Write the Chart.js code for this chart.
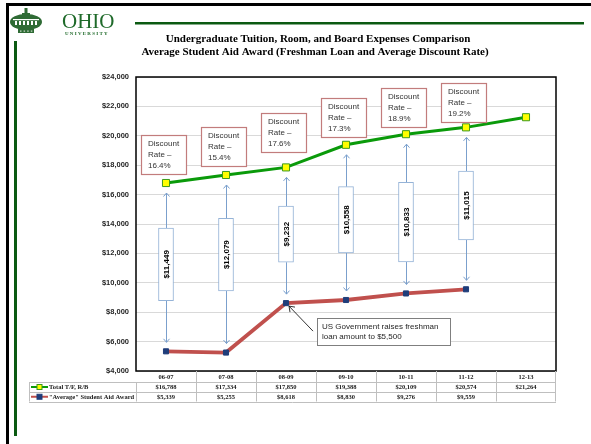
<!DOCTYPE html>
<html>
<head>
<meta charset="utf-8">
<script src="https://cdn.jsdelivr.net/npm/chart.js@4/dist/chart.umd.min.js"></script>
<style>
	html, body { margin: 0; padding: 0; background: #fff; }
	#wrap { width: 591px; height: 444px; position: relative; }
</style>
</head>
<body>
<div id="wrap"><canvas id="chart"></canvas></div>
<script>
const categories = ['06-07', '07-08', '08-09', '09-10', '10-11', '11-12', '12-13'];
const totalTFRB = [16788, 17334, 17850, 19388, 20109, 20574, 21264];
const avgAidAward = [5339, 5255, 8618, 8830, 9276, 9559, null];
const gapBoxLow = [8780, 9440, 11400, 12030, 11420, 12910];
const gapBoxHigh = [13730, 14390, 15220, 16540, 16840, 17600];
const gapLabels = ['$11,449', '$12,079', '$9,232', '$10,558', '$10,833', '$11,015'];
const discountRates = ['16.4%', '15.4%', '17.6%', '17.3%', '18.9%', '19.2%'];
const seriesNames = ['Total T/F, R/B', '"Average" Student Aid Award'];

const money = (v) => '$' + v.toLocaleString('en-US');

// gap (px) between each discount callout and its point
const calloutGap = [9, 9, 15, 8, 7, 5];

// ---------- page furniture: frame, logo, title ----------
function drawHeader(ctx) {
	ctx.save();
	// black frame
	ctx.fillStyle = '#000';
	ctx.fillRect(6, 3, 585, 3);
	ctx.fillRect(6, 3, 3, 441);
	// green rules
	ctx.fillStyle = '#0b5a12';
	ctx.fillRect(14, 41, 3, 395);
	ctx.fillRect(135, 22, 449, 2.5);

	// logo emblem (rough Cutler Hall)
	ctx.fillStyle = '#2f6b35';
	ctx.beginPath();
	ctx.ellipse(26, 22, 16, 8, 0, 0, Math.PI * 2);
	ctx.fill();
	ctx.fillRect(24.5, 8, 3, 8);
	ctx.fillRect(22, 13, 8, 4);
	ctx.fillStyle = '#fff';
	ctx.fillRect(13, 19, 26, 1.2);
	for (let i = 0; i < 6; i++) ctx.fillRect(15 + i * 4, 21, 2, 4);
	ctx.fillStyle = '#2f6b35';
	ctx.fillRect(18, 29, 16, 4);
	ctx.fillStyle = '#cfe0cf';
	for (let i = 0; i < 4; i++) ctx.fillRect(20 + i * 3.6, 30.5, 1.5, 1.2);

	ctx.fillStyle = '#1f6a2a';
	ctx.font = '21px "Liberation Serif"';
	ctx.textBaseline = 'alphabetic';
	ctx.fillText('OHIO', 62, 28);
	ctx.font = 'bold 5px "Liberation Serif"';
	ctx.fillText('U N I V E R S I T Y', 65, 34.5);

	// title
	ctx.fillStyle = '#000';
	ctx.textAlign = 'center';
	ctx.textBaseline = 'middle';
	ctx.font = 'bold 11px "Liberation Serif"';
	ctx.fillText('Undergraduate Tuition, Room, and Board Expenses Comparison', 318, 39);
	ctx.fillText('Average Student Aid Award (Freshman Loan and Average Discount Rate)', 315, 52);
	ctx.restore();
}

// ---------- data table under the plot ----------
function drawTable(chart) {
	const { ctx, chartArea, scales } = chart;
	const x = scales.x;
	const step = (chartArea.right - chartArea.left) / categories.length;
	const r0 = chartArea.bottom, r1 = r0 + 11, r2 = r1 + 10, r3 = r2 + 9.5;
	const left = 29;
	ctx.save();
	ctx.strokeStyle = '#bfbfbf';
	ctx.lineWidth = 1;
	ctx.beginPath();
	for (let i = 1; i < categories.length; i++) {
		const gx = Math.round(chartArea.left + i * step) + 0.5;
		ctx.moveTo(gx, r0); ctx.lineTo(gx, r3);
	}
	ctx.moveTo(chartArea.left + 0.5, r1); ctx.lineTo(chartArea.left + 0.5, r3);
	ctx.moveTo(chartArea.right - 0.5, r0); ctx.lineTo(chartArea.right - 0.5, r3);
	ctx.moveTo(left + 0.5, r1); ctx.lineTo(left + 0.5, r3);
	[r1, r2, r3].forEach((ry) => {
		ctx.moveTo(left, Math.round(ry) + 0.5); ctx.lineTo(chartArea.right, Math.round(ry) + 0.5);
	});
	ctx.stroke();

	ctx.fillStyle = '#1a1a1a';
	ctx.textAlign = 'center';
	ctx.textBaseline = 'middle';
	ctx.font = 'bold 6.5px "Liberation Serif"';
	categories.forEach((c, i) => {
		const cx = x.getPixelForValue(i);
		ctx.fillText(c, cx, (r0 + r1) / 2 + 0.5);
		ctx.fillText(money(totalTFRB[i]), cx, (r1 + r2) / 2 + 0.5);
		if (avgAidAward[i] != null) ctx.fillText(money(avgAidAward[i]), cx, (r2 + r3) / 2 + 0.5);
	});

	// legend keys
	const keys = [
		{ line: '#0a9a0a', fill: '#ffff00', edge: '#3c9a1c', y: (r1 + r2) / 2 },
		{ line: '#c0504d', fill: '#1f3d7a', edge: '#1f3d7a', y: (r2 + r3) / 2 },
	];
	keys.forEach((k, i) => {
		ctx.strokeStyle = k.line;
		ctx.lineWidth = 2;
		ctx.beginPath();
		ctx.moveTo(31, k.y); ctx.lineTo(48, k.y);
		ctx.stroke();
		ctx.fillStyle = k.fill;
		ctx.fillRect(37, k.y - 2.5, 5, 5);
		ctx.strokeStyle = k.edge;
		ctx.lineWidth = 1;
		ctx.strokeRect(37, k.y - 2.5, 5, 5);
		ctx.fillStyle = '#1a1a1a';
		ctx.textAlign = 'left';
		ctx.font = 'bold 6.5px "Liberation Serif"';
		ctx.fillText(seriesNames[i], 49, k.y + 0.5);
	});
	ctx.restore();
}

function chevron(ctx, x, y, dir) {
	ctx.beginPath();
	ctx.moveTo(x - 3, y - 3.5 * dir);
	ctx.lineTo(x, y);
	ctx.lineTo(x + 3, y - 3.5 * dir);
	ctx.stroke();
}

const overlayPlugin = {
	id: 'overlay',
	beforeDraw(chart) {
		const { ctx, width, height } = chart;
		ctx.save();
		ctx.fillStyle = '#fff';
		ctx.fillRect(0, 0, width, height);
		ctx.restore();
		drawHeader(ctx);
	},
	beforeDatasetsDraw(chart) {
		const { ctx, scales } = chart;
		const x = scales.x, y = scales.y;
		ctx.save();
		ctx.strokeStyle = '#7ba0cd';
		ctx.lineWidth = 1;
		gapBoxLow.forEach((lo, i) => {
			const cx = Math.round(x.getPixelForValue(i)) + 0.5;
			const yTop = y.getPixelForValue(gapBoxHigh[i]);
			const yBot = y.getPixelForValue(lo);
			const upTip = y.getPixelForValue(totalTFRB[i]) + 10;
			const downTip = y.getPixelForValue(avgAidAward[i]) - 9;
			ctx.beginPath();
			ctx.moveTo(cx, yTop); ctx.lineTo(cx, upTip);
			ctx.moveTo(cx, yBot); ctx.lineTo(cx, downTip);
			ctx.stroke();
			chevron(ctx, cx, upTip, -1);
			chevron(ctx, cx, downTip, 1);
		});
		ctx.restore();
	},
	afterDatasetsDraw(chart) {
		const { ctx, chartArea, scales } = chart;
		const x = scales.x, y = scales.y;
		ctx.save();
		// plot frame
		ctx.strokeStyle = '#000';
		ctx.lineWidth = 1.5;
		ctx.strokeRect(chartArea.left, chartArea.top, chartArea.right - chartArea.left, chartArea.bottom - chartArea.top);

		// gap labels inside the floating boxes (read bottom to top)
		ctx.fillStyle = '#000';
		ctx.font = 'bold 8px "Liberation Sans"';
		ctx.textAlign = 'center';
		ctx.textBaseline = 'middle';
		gapLabels.forEach((t, i) => {
			const cx = x.getPixelForValue(i);
			const cy = (y.getPixelForValue(gapBoxLow[i]) + y.getPixelForValue(gapBoxHigh[i])) / 2;
			ctx.save();
			ctx.translate(cx + 0.5, cy);
			ctx.rotate(-Math.PI / 2);
			ctx.fillText(t, 0, 0);
			ctx.restore();
		});

		// discount rate callouts
		ctx.font = '8px "Liberation Sans"';
		ctx.textAlign = 'left';
		discountRates.forEach((rate, i) => {
			const bx = Math.round(x.getPixelForValue(i) - 25) + 0.5;
			const by = Math.round(y.getPixelForValue(totalTFRB[i]) - calloutGap[i] - 39) + 0.5;
			ctx.fillStyle = '#fff';
			ctx.fillRect(bx, by, 45, 39);
			ctx.strokeStyle = '#c27c7c';
			ctx.lineWidth = 1.2;
			ctx.strokeRect(bx, by, 45, 39);
			ctx.fillStyle = '#333';
			['Discount', 'Rate \u2013', rate].forEach((line, j) => {
				ctx.fillText(line, bx + 6.5, by + 8 + j * 11.3);
			});
		});

		// loan note
		const px = x.getPixelForValue(2), py = y.getPixelForValue(avgAidAward[2]);
		ctx.strokeStyle = '#000';
		ctx.lineWidth = 0.8;
		ctx.beginPath();
		ctx.moveTo(px + 27, py + 28);
		ctx.lineTo(px + 3, py + 3);
		ctx.stroke();
		ctx.beginPath();
		ctx.moveTo(px + 3, py + 3);
		ctx.lineTo(px + 4, py + 9);
		ctx.moveTo(px + 3, py + 3);
		ctx.lineTo(px + 9, py + 4);
		ctx.stroke();
		ctx.fillStyle = '#fff';
		ctx.fillRect(317.5, 318.5, 133, 27);
		ctx.strokeStyle = '#7f7f7f';
		ctx.lineWidth = 1;
		ctx.strokeRect(317.5, 318.5, 133, 27);
		ctx.fillStyle = '#262626';
		ctx.fillText('US Government raises freshman', 322, 326.5);
		ctx.fillText('loan amount to $5,500', 322, 337);
		ctx.restore();

		drawTable(chart);
	},
};

new Chart(document.getElementById('chart'), {
	data: {
		labels: categories,
		datasets: [
			{
				type: 'line',
				label: seriesNames[0],
				data: totalTFRB,
				borderColor: '#0a9a0a',
				borderWidth: 3,
				pointStyle: 'rect',
				pointRadius: 5,
				pointBackgroundColor: '#ffff00',
				pointBorderColor: '#3c9a1c',
				pointBorderWidth: 1,
				tension: 0,
				order: 1,
			},
			{
				type: 'line',
				label: seriesNames[1],
				data: avgAidAward,
				borderColor: '#c0504d',
				borderWidth: 3.8,
				pointStyle: 'rect',
				pointRadius: 3.6,
				pointBackgroundColor: '#1f3d7a',
				pointBorderColor: '#1f3d7a',
				pointBorderWidth: 1,
				tension: 0,
				order: 2,
			},
			{
				type: 'bar',
				label: 'Gap',
				data: gapBoxLow.map((lo, i) => [lo, gapBoxHigh[i]]),
				backgroundColor: '#fff',
				borderColor: '#95b3d7',
				borderWidth: 1,
				borderSkipped: false,
				barThickness: 15,
				order: 3,
			},
		],
	},
	options: {
		responsive: true,
		maintainAspectRatio: false,
		animation: false,
		layout: { padding: { left: 76, top: 77, right: 35, bottom: 73 } },
		scales: {
			x: { display: false },
			y: {
				min: 4000,
				max: 24000,
				afterFit(scale) { scale.width = 60; },
				ticks: {
					stepSize: 2000,
					padding: 7,
					color: '#262626',
					font: { family: 'Liberation Sans', size: 7.5, weight: 'bold' },
					callback: (v) => money(v),
				},
				grid: { color: '#d9d9d9', drawTicks: false },
				border: { display: false },
			},
		},
		plugins: {
			legend: { display: false },
			tooltip: { enabled: false },
		},
	},
	plugins: [overlayPlugin],
});
</script>
</body>
</html>
